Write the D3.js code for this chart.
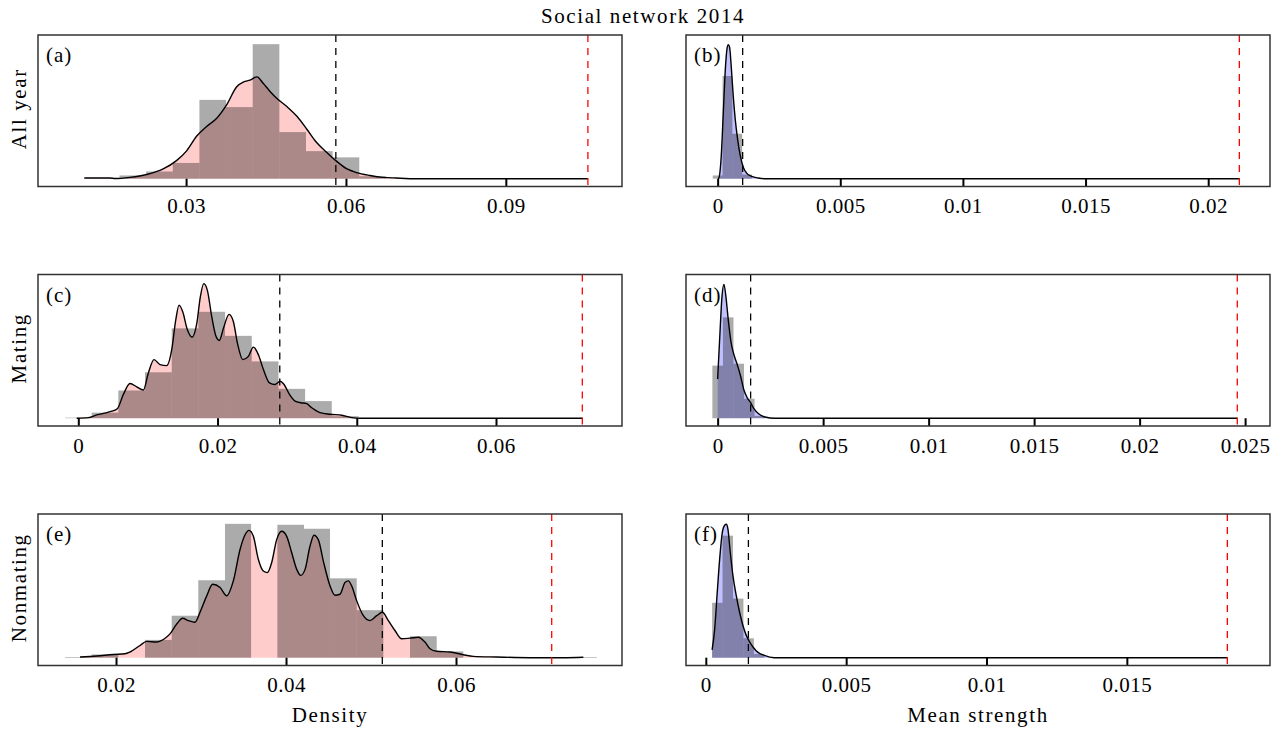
<!DOCTYPE html>
<html><head><meta charset="utf-8">
<script src="https://cdn.jsdelivr.net/npm/d3@7"></script>
<style>
html,body{margin:0;padding:0;background:#fff;}
svg{display:block;font-family:"Liberation Serif","Times New Roman",serif;}
</style></head><body>
<svg id="chart" width="1285" height="733"></svg>
<script>
// ---------- data: null distributions of network metrics, 2014 ----------
// heights are relative frequency (0–100 scale); values on the x axis are metric values

// (a) All year – density
const aTicks = [0.03, 0.06, 0.09];
const aTickLabels = ["0.03", "0.06", "0.09"];
const aBinEdges = [0.0175, 0.0225, 0.0275, 0.0325, 0.0375, 0.0425, 0.0475, 0.0525, 0.0575, 0.0625, 0.0675];
const aBinHeights = [2.4, 5.3, 11.6, 58.0, 52.7, 99.0, 34.3, 20.3, 15.7, 1.8];
const aCurveX = [0.0109, 0.0157, 0.0167, 0.0195, 0.0226, 0.0257, 0.0282, 0.0301, 0.0320, 0.0339, 0.0358, 0.0376, 0.0395, 0.0408, 0.0420, 0.0433, 0.0445, 0.0458, 0.0470, 0.0489, 0.0508, 0.0527, 0.0545, 0.0564, 0.0581, 0.0602, 0.0620, 0.0645, 0.0670, 0.0695, 0.0733, 0.1054];
const aCurveY = [0.5, 0.5, 0.1, 1.0, 3.1, 7.2, 13.3, 20.5, 31.4, 38.6, 44.7, 54.3, 67.6, 71.2, 72.5, 74.9, 70.0, 64.0, 59.2, 53.1, 45.9, 36.2, 26.6, 19.3, 13.3, 7.2, 4.5, 2.4, 1.0, 0.5, 0, 0];
const aThreshold = 0.0581;
const aObserved = 0.1054;

// (b) All year – mean strength
const bTicks = [0, 0.005, 0.01, 0.015, 0.02];
const bTickLabels = ["0", "0.005", "0.01", "0.015", "0.02"];
const bBinEdges = [-0.0002, 0.0002, 0.0006, 0.0010, 0.0014];
const bBinHeights = [2.4, 75.6, 33.1, 3.1];
const bCurveX = [0.00002, 0.000053, 0.000148, 0.00023, 0.000311, 0.00038, 0.000434, 0.000489, 0.000556, 0.000638, 0.000719, 0.000815, 0.000923, 0.001045, 0.001183, 0.001387, 0.001658, 0.001998, 0.02127];
const bCurveY = [0, 0.7, 16.9, 48.3, 79.7, 95.4, 98.6, 96.6, 82.1, 60.4, 43.5, 29.0, 16.9, 8.5, 4.1, 1.7, 0.5, 0, 0];
const bThreshold = 0.00102;
const bObserved = 0.02127;

// (c) Mating – density
const cTicks = [0, 0.02, 0.04, 0.06];
const cTickLabels = ["0", "0.02", "0.04", "0.06"];
const cBinEdges = [-0.0019, 0.00192, 0.00575, 0.00958, 0.01342, 0.01725, 0.02108, 0.02492, 0.02875, 0.03258, 0.03641, 0.04024];
const cBinHeights = [0.4, 4.1, 20.4, 33.8, 66.1, 78.3, 60.6, 41.8, 21.6, 12.6, 1.5];
const cCurveX = [-0.00023, 0.00144, 0.00264, 0.00456, 0.0056, 0.00647, 0.00743, 0.00839, 0.00934, 0.01006, 0.01088, 0.01174, 0.0127, 0.01342, 0.0140, 0.01447, 0.0150, 0.01567, 0.01634, 0.01702, 0.01753, 0.01802, 0.01854, 0.01917, 0.01979, 0.02026, 0.02084, 0.02166, 0.02228, 0.02286, 0.02363, 0.02443, 0.02515, 0.02587, 0.02659, 0.02745, 0.02827, 0.02899, 0.02956, 0.03033, 0.03114, 0.03196, 0.03273, 0.03354, 0.03474, 0.03617, 0.03786, 0.03929, 0.04049, 0.0724];
const cCurveY = [0, 0.4, 2.4, 4.8, 7.0, 17.5, 25.5, 23.1, 20.7, 33.3, 43.1, 39.4, 38.7, 50.4, 72.3, 83.2, 78.3, 65.0, 59.6, 69.8, 89.3, 99.0, 94.1, 74.7, 60.1, 57.2, 66.1, 76.4, 71.0, 55.2, 43.1, 45.5, 52.3, 46.7, 35.8, 26.0, 24.8, 27.2, 24.8, 17.5, 12.6, 11.4, 10.9, 7.7, 4.1, 2.9, 2.2, 0.4, 0, 0];
const cThreshold = 0.02894;
const cObserved = 0.0724;

// (d) Mating – mean strength
const dTicks = [0, 0.005, 0.01, 0.015, 0.02, 0.025];
const dTickLabels = ["0", "0.005", "0.01", "0.015", "0.02", "0.025"];
const dBinEdges = [-0.00025, 0.00025, 0.00075, 0.00125, 0.00175, 0.00225];
const dBinHeights = [38.7, 74.2, 40.1, 14.3, 1.7];
const dCurveX = [0, 0.000109, 0.000204, 0.000299, 0.000393, 0.000504, 0.00063, 0.000773, 0.00093, 0.00109, 0.001246, 0.001404, 0.001564, 0.00172, 0.001925, 0.00224, 0.00272, 0.02463];
const dCurveY = [28.9, 62.5, 89.3, 98.5, 89.3, 72.3, 56.4, 46.7, 39.4, 30.9, 20.7, 15.0, 11.4, 7.0, 3.4, 0.9, 0, 0];
const dThreshold = 0.001563;
const dObserved = 0.02463;

// (e) Nonmating – density
const eTicks = [0.02, 0.04, 0.06];
const eTickLabels = ["0.02", "0.04", "0.06"];
const eBinEdges = [0.014, 0.01714, 0.02027, 0.02341, 0.02655, 0.02968, 0.03282, 0.03589, 0.03898, 0.04212, 0.04518, 0.04832, 0.05145, 0.05459, 0.05773, 0.06086, 0.064, 0.06714, 0.07028, 0.07342, 0.07656];
const eBinHeights = [0.5, 2.4, 0, 13.1, 30.9, 57.0, 98.5, 0, 97.8, 94.9, 58.4, 35.0, 0, 15.8, 4.6, 0, 0, 0, 0, 0.5];
const eCurveX = [0.01576, 0.01773, 0.01969, 0.02106, 0.02165, 0.02282, 0.02361, 0.02479, 0.02557, 0.02635, 0.02714, 0.02784, 0.02851, 0.02929, 0.02988, 0.03067, 0.03137, 0.03224, 0.03302, 0.0338, 0.03459, 0.03518, 0.03565, 0.03616, 0.03675, 0.03733, 0.0378, 0.03831, 0.0389, 0.03949, 0.04008, 0.04067, 0.04126, 0.04173, 0.04224, 0.04282, 0.04329, 0.0438, 0.04439, 0.04518, 0.04576, 0.04635, 0.04694, 0.04733, 0.04773, 0.04831, 0.0491, 0.04988, 0.05067, 0.05133, 0.05204, 0.05282, 0.05361, 0.05459, 0.05557, 0.05635, 0.05694, 0.05773, 0.05929, 0.06086, 0.06204, 0.06479, 0.06871, 0.07027, 0.07262, 0.07498];
const eCurveY = [0.5, 1.2, 2.4, 2.9, 4.2, 9.0, 12.0, 11.5, 13.4, 17.5, 24.8, 29.0, 27.3, 26.1, 33.4, 45.5, 54.0, 51.6, 45.5, 56.5, 79.6, 90.5, 93.7, 89.3, 72.3, 63.8, 62.6, 69.9, 86.9, 93.0, 89.3, 77.2, 65.0, 60.6, 65.0, 82.0, 90.1, 86.9, 71.1, 52.8, 46.0, 46.7, 55.3, 56.5, 52.8, 42.0, 30.9, 27.3, 30.9, 33.4, 27.3, 20.0, 13.9, 14.4, 15.1, 11.5, 6.6, 4.7, 4.2, 2.2, 1.0, 0.5, 0, 0, 0, 0.3];
const eThreshold = 0.05133;
const eObserved = 0.07126;

// (f) Nonmating – mean strength
const fTicks = [0, 0.005, 0.01, 0.015];
const fTickLabels = ["0", "0.005", "0.01", "0.015"];
const fBinEdges = [0.000224, 0.000596, 0.000968, 0.00134, 0.001712, 0.002084];
const fBinHeights = [40.4, 89.8, 43.5, 14.3, 2.7];
const fCurveX = [0.000224, 0.000318, 0.0004, 0.000494, 0.000588, 0.000671, 0.00073, 0.000788, 0.000871, 0.000965, 0.001082, 0.0012, 0.001317, 0.001435, 0.001553, 0.001694, 0.001847, 0.002082, 0.002435, 0.002611, 0.01858];
const fCurveY = [5.8, 21.6, 46.0, 72.7, 92.2, 97.5, 98.2, 94.6, 77.6, 60.6, 46.0, 33.8, 24.1, 16.8, 11.9, 7.5, 4.1, 1.7, 0, 0, 0];
const fThreshold = 0.001517;
const fObserved = 0.01858;

const rowLabels = ["All year", "Mating", "Nonmating"];
const columnTitles = ["Density", "Mean strength"];
const chartTitle = "Social network 2014";

// ---------- layout ----------
const colX = [38, 686];
const panelW = 584;
const rowY = [35, 274.5, 514];
const panelH = 151.5;
const pad = 7.8;            // gap between box edge and y = 0 / y = max
const fills = ["#ffcccc", "#c0c0ff"];

const panels = [
  {id: "a", row: 0, col: 0, domain: [0.00221, 0.1118], ticks: aTicks, labels: aTickLabels, edges: aBinEdges, heights: aBinHeights, cx: aCurveX, cy: aCurveY, thr: aThreshold, obs: aObserved},
  {id: "b", row: 0, col: 1, domain: [-0.00129, 0.02252], ticks: bTicks, labels: bTickLabels, edges: bBinEdges, heights: bBinHeights, cx: bCurveX, cy: bCurveY, thr: bThreshold, obs: bObserved},
  {id: "c", row: 1, col: 0, domain: [-0.00579, 0.0781], ticks: cTicks, labels: cTickLabels, edges: cBinEdges, heights: cBinHeights, cx: cCurveX, cy: cCurveY, thr: cThreshold, obs: cObserved},
  {id: "d", row: 1, col: 1, domain: [-0.0015, 0.02618], ticks: dTicks, labels: dTickLabels, edges: dBinEdges, heights: dBinHeights, cx: dCurveX, cy: dCurveY, thr: dThreshold, obs: dObserved},
  {id: "e", row: 2, col: 0, domain: [0.01082, 0.07953], ticks: eTicks, labels: eTickLabels, edges: eBinEdges, heights: eBinHeights, cx: eCurveX, cy: eCurveY, thr: eThreshold, obs: eObserved},
  {id: "f", row: 2, col: 1, domain: [-0.000706, 0.0201], ticks: fTicks, labels: fTickLabels, edges: fBinEdges, heights: fBinHeights, cx: fCurveX, cy: fCurveY, thr: fThreshold, obs: fObserved}
];

const svg = d3.select("#chart");
const FS = 21;
const WORD_SPACING = 1.6;   // letter spacing for word labels
const NUM_SPACING = 0.5;    // letter spacing for numbers

svg.append("text")
  .attr("x", 643).attr("y", 23)
  .attr("text-anchor", "middle")
  .attr("font-size", FS).attr("letter-spacing", WORD_SPACING)
  .text(chartTitle);

panels.forEach(p => {
  const x0 = colX[p.col], y0 = rowY[p.row];
  const x = d3.scaleLinear().domain(p.domain).range([x0, x0 + panelW]);
  const y = d3.scaleLinear().domain([0, 100]).range([y0 + panelH - pad, y0 + pad]);
  const g = svg.append("g");

  const clipId = "clip-" + p.id;
  g.append("clipPath").attr("id", clipId)
    .append("rect").attr("x", x0).attr("y", y0).attr("width", panelW).attr("height", panelH);
  const inner = g.append("g").attr("clip-path", `url(#${clipId})`);

  const pts = p.cx.map((v, i) => [v, p.cy[i]]);

  // filled kernel density
  inner.append("path")
    .datum(pts)
    .attr("fill", fills[p.col])
    .attr("d", d3.area().x(d => x(d[0])).y0(y(0)).y1(d => y(d[1])).curve(d3.curveMonotoneX));

  // histogram of simulated values
  const bins = p.heights.map((h, i) => ({x0: p.edges[i], x1: p.edges[i + 1], h}));
  inner.selectAll("rect.bin").data(bins.filter(b => b.h > 0)).join("rect")
    .attr("class", "bin")
    .attr("x", b => x(b.x0))
    .attr("width", b => x(b.x1) - x(b.x0))
    .attr("y", b => y(b.h))
    .attr("height", b => y(0) - y(b.h))
    .attr("fill", "rgba(0,0,0,0.33)");

  // density outline
  inner.append("path")
    .datum(pts)
    .attr("fill", "none")
    .attr("stroke", "#000")
    .attr("stroke-width", 1.4)
    .attr("d", d3.line().x(d => x(d[0])).y(d => y(d[1])).curve(d3.curveMonotoneX));

  // 95% threshold and observed value
  inner.append("line")
    .attr("x1", x(p.thr)).attr("x2", x(p.thr))
    .attr("y1", y0).attr("y2", y0 + panelH)
    .attr("stroke", "#000").attr("stroke-width", 1.3)
    .attr("stroke-dasharray", "7,6");
  inner.append("line")
    .attr("x1", x(p.obs)).attr("x2", x(p.obs))
    .attr("y1", y0).attr("y2", y0 + panelH)
    .attr("stroke", "#ff0000").attr("stroke-width", 1.3)
    .attr("stroke-dasharray", "7,6");

  // x axis: inward ticks from the bottom edge
  const axis = d3.axisBottom(x)
    .tickValues(p.ticks)
    .tickFormat((d, i) => p.labels[i])
    .tickSizeInner(-pad)
    .tickSizeOuter(0)
    .tickPadding(12);
  const ag = g.append("g")
    .attr("transform", `translate(0,${y0 + panelH})`)
    .call(axis);
  ag.select(".domain").remove();
  ag.selectAll(".tick line").attr("stroke", "#000").attr("stroke-width", 2);
  ag.selectAll(".tick text")
    .attr("font-size", FS)
    .attr("font-family", "Liberation Serif, serif")
    .attr("letter-spacing", NUM_SPACING)
    .attr("fill", "#000");

  // frame
  g.append("rect")
    .attr("x", x0).attr("y", y0).attr("width", panelW).attr("height", panelH)
    .attr("fill", "none").attr("stroke", "#333").attr("stroke-width", 1.5);

  // panel tag
  g.append("text")
    .attr("x", x0 + 8).attr("y", y0 + 27)
    .attr("font-size", FS).attr("letter-spacing", 1)
    .text(`(${p.id})`);
});

// row labels
rowLabels.forEach((t, i) => {
  svg.append("text")
    .attr("transform", `translate(26,${rowY[i] + panelH / 2 - 2}) rotate(-90)`)
    .attr("text-anchor", "middle")
    .attr("font-size", FS).attr("letter-spacing", WORD_SPACING)
    .text(t);
});

// column titles
columnTitles.forEach((t, i) => {
  svg.append("text")
    .attr("x", colX[i] + panelW / 2).attr("y", 722)
    .attr("text-anchor", "middle")
    .attr("font-size", FS).attr("letter-spacing", WORD_SPACING)
    .text(t);
});
</script>
</body></html>
